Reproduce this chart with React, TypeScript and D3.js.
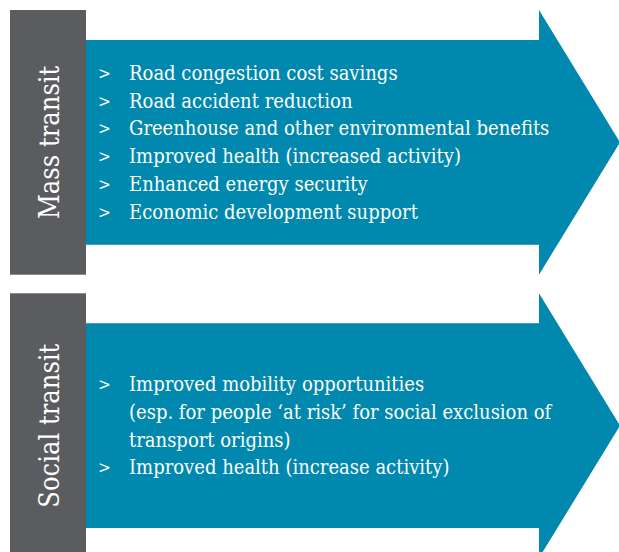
import { useRef, useEffect } from "react";
import * as d3 from "d3";

const panels = ["Mass transit", "Social transit"];

const massItems = [
  { text: "Road congestion cost savings", bullet: true },
  { text: "Road accident reduction", bullet: true },
  { text: "Greenhouse and other environmental benefits", bullet: true },
  { text: "Improved health (increased activity)", bullet: true },
  { text: "Enhanced energy security", bullet: true },
  { text: "Economic development support", bullet: true },
];

const socialItems = [
  { text: "Improved mobility opportunities", bullet: true },
  { text: "(esp. for people \u2018at risk\u2019 for social exclusion of", bullet: false },
  { text: "transport origins)", bullet: false },
  { text: "Improved health (increase activity)", bullet: true },
];

const items = [massItems, socialItems];

export default function App() {
  const ref = useRef<HTMLDivElement>(null);

  function init() {
    const settings = {
      width: 619,
      height: 552,
      panelHeight: 265,
      gap: 18,
      boxLeft: 10,
      boxRight: 86,
      bodyInset: 30,
      headX: 539,
      tipX: 620,
      lineStep: 27.8,
    };
    const blue = "#0088ae";
    const grey = "#5b5c5f";
    const serif = "'DejaVu Serif Condensed', 'DejaVu Serif', serif";

    d3.select(ref.current).selectAll("*").remove();

    const svg = d3
      .select(ref.current)
      .append("svg")
      .attr("width", settings.width)
      .attr("height", settings.height)
      .style("position", "absolute")
      .style("left", 0)
      .style("top", 0);

    const y = d3
      .scaleBand()
      .domain(panels)
      .range([10, 10 + 2 * settings.panelHeight + settings.gap])
      .paddingInner(settings.gap / (settings.panelHeight + settings.gap / 2))
      .paddingOuter(0);

    const arrow = d3.line();

    panels.forEach((name, i) => {
      const top = y(name)!;
      const h = y.bandwidth();
      const g = svg.append("g");
      const bTop = top + settings.bodyInset;
      const bBot = top + h - settings.bodyInset;

      g.append("path")
        .attr(
          "d",
          arrow([
            [settings.boxRight, bTop],
            [settings.headX, bTop],
            [settings.headX, top],
            [settings.tipX, top + h / 2],
            [settings.headX, top + h],
            [settings.headX, bBot],
            [settings.boxRight, bBot],
          ]) + "Z"
        )
        .attr("fill", blue);

      g.append("rect")
        .attr("x", settings.boxLeft)
        .attr("y", top)
        .attr("width", settings.boxRight - settings.boxLeft)
        .attr("height", h)
        .attr("fill", grey);

      g.append("text")
        .attr(
          "transform",
          `translate(${(settings.boxLeft + settings.boxRight) / 2 + 1},${top + h / 2}) rotate(-90)`
        )
        .attr("text-anchor", "middle")
        .attr("dominant-baseline", "central")
        .attr("font-family", serif)
        .attr("font-size", 27)
        .attr("fill", "#fff")
        .text(name);

      const list = items[i];
      const mid = (bTop + bBot) / 2;
      const first = mid - ((list.length - 1) / 2) * settings.lineStep;
      list.forEach((d, j) => {
        const ly = first + j * settings.lineStep;
        if (d.bullet) {
          g.append("text")
            .attr("x", 98)
            .attr("y", ly)
            .attr("dominant-baseline", "central")
            .attr("font-family", serif)
            .attr("font-size", 17)
            .attr("fill", "#fff")
            .text(">");
        }
        g.append("text")
          .attr("x", 129)
          .attr("y", ly)
          .attr("dominant-baseline", "central")
          .attr("font-family", serif)
          .attr("font-size", 20)
          .attr("fill", "#fff")
          .text(d.text);
      });
    });
  }

  useEffect(init, []);
  return <div ref={ref}></div>;
}
